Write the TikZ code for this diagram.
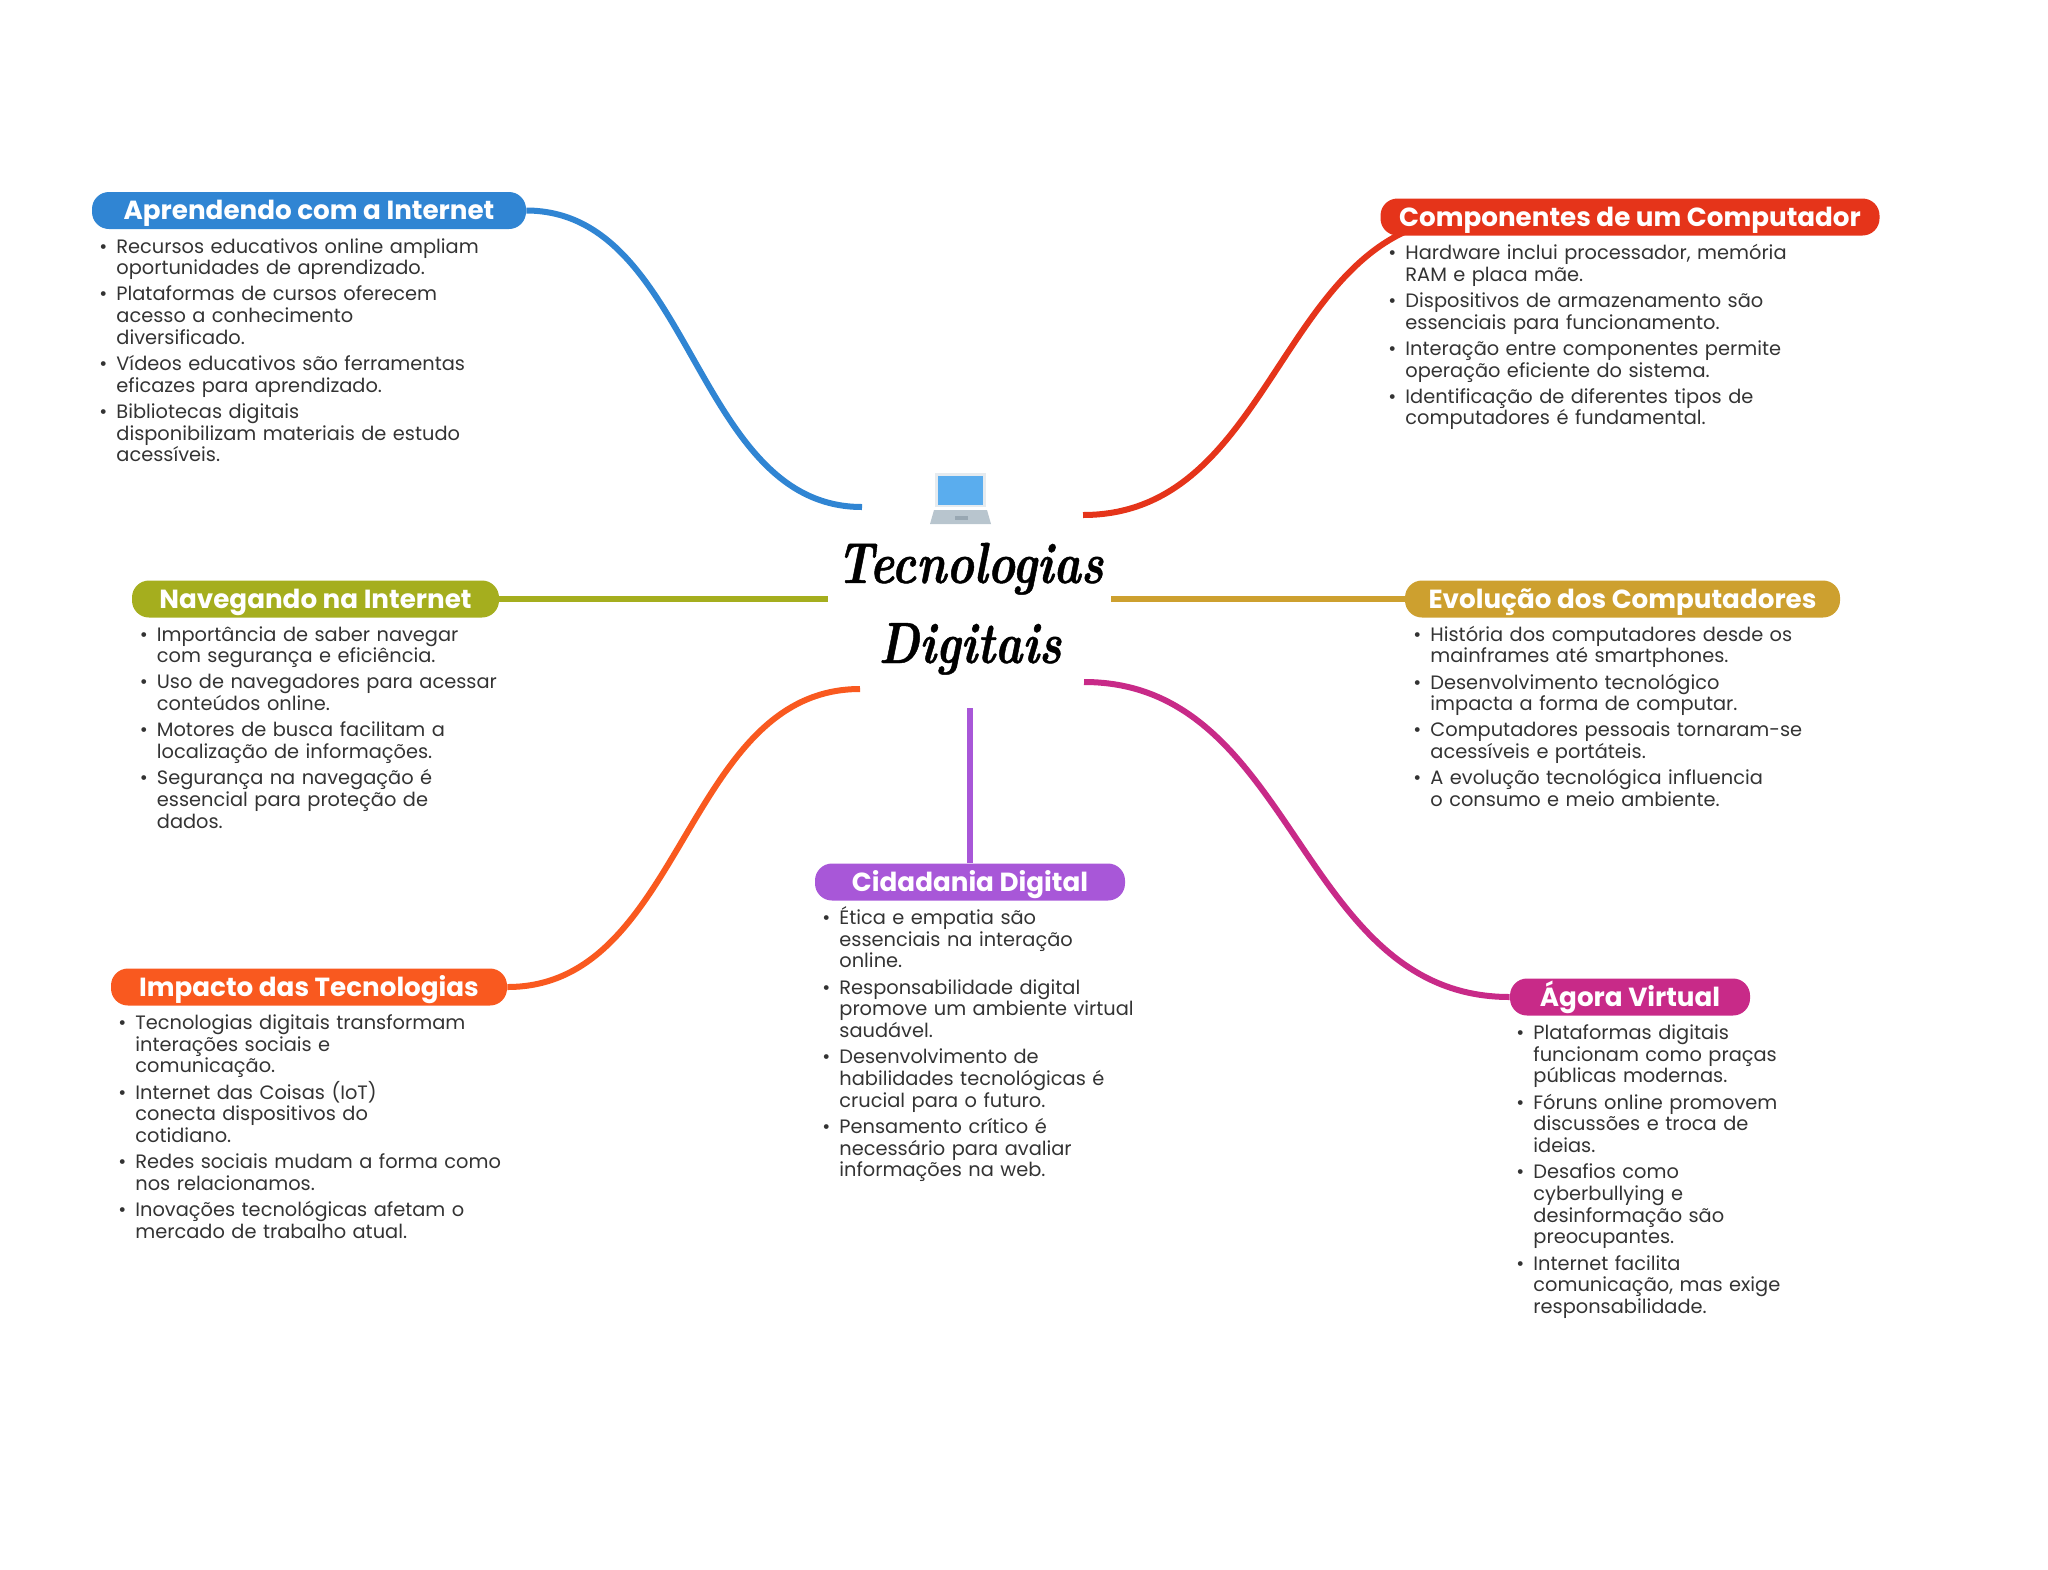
\documentclass[tikz,border=0pt]{standalone}
\usepackage{fontspec}
\setmainfont{Poppins}
\newfontfamily\titlefont[FakeStretch=0.8, FakeBold=0.8]{Latin Modern Roman}
\usepackage{tikz}
\usetikzlibrary{backgrounds}

\definecolor{azul}{HTML}{3085D3}
\definecolor{vermelho}{HTML}{E5341A}
\definecolor{oliva}{HTML}{A5AE1E}
\definecolor{ouro}{HTML}{CDA02F}
\definecolor{laranja}{HTML}{F9591F}
\definecolor{roxo}{HTML}{A857D8}
\definecolor{magenta}{HTML}{C82A88}
\definecolor{texto}{HTML}{333333}
\definecolor{tela}{HTML}{5AADEE}
\definecolor{moldura}{HTML}{E6EBEF}
\definecolor{teclado}{HTML}{B8C5CE}
\definecolor{tecla}{HTML}{98A7B2}

\tikzset{
    titulo/.style={rounded corners=8.5pt, minimum height=18.5pt, inner sep=0pt, text=white,
        text height=12.2pt, text depth=3.2pt,
        font=\fontsize{13.1}{15}\selectfont\bfseries},
    corpo/.style={anchor=base west, inner sep=0pt, text width=230pt, text=texto,
        font=\fontsize{9.69}{10.85}\selectfont},
    ramo/.style={line width=3pt}
}
\newcommand{\bitem}[1]{\makebox[0pt][r]{\textbullet\hspace{4.5pt}}\parbox[t]{225pt}{\lineskiplimit=-5pt\raggedright\strut #1\strut}\par\vspace{2.25pt}\nointerlineskip}

\begin{document}
\begin{tikzpicture}[x=0.5pt, y=-0.5pt]

        \useasboundingbox (0,0) rectangle (2048,1569);

        \coordinate (c1) at (862,507);
        \coordinate (c2) at (1083,515);
        \coordinate (c3) at (828,599);
        \coordinate (c4) at (1111,599);
        \coordinate (c5) at (860,689);
        \coordinate (c6) at (970,708);
        \coordinate (c7) at (1084,682);

        % titulos
        \node[titulo, fill=azul, minimum width=217pt] (aprendendo) at (309,210.5) {Aprendendo com a Internet};
        \node[titulo, fill=vermelho, minimum width=249.5pt] (componentes) at (1630,217) {Componentes de um Computador};
        \node[titulo, fill=oliva, minimum width=183.5pt] (navegando) at (315.5,599) {Navegando na Internet};
        \node[titulo, fill=ouro, minimum width=217.5pt] (evolucao) at (1622.5,599) {Evolução dos Computadores};
        \node[titulo, fill=laranja, minimum width=198pt] (impacto) at (309,987) {Impacto das Tecnologias};
        \node[titulo, fill=roxo, minimum width=155pt] (cidadania) at (970,882) {Cidadania Digital};
        \node[titulo, fill=magenta, minimum width=120pt] (agora) at (1630,997) {Ágora Virtual};

        \coordinate (c2b) at ([xshift=47pt]componentes.west);

        % ramos
        \begin{pgfonlayer}{background}
        \draw[ramo, azul] (aprendendo.east) .. controls (693,211) and (693,507) .. (c1);
        \draw[ramo, vermelho] (c2) .. controls (1279,515) and (1279,217) .. (c2b);
        \draw[ramo, oliva] (navegando.east) -- (c3);
        \draw[ramo, ouro] (c4) -- (evolucao.west);
        \draw[ramo, laranja] (c5) .. controls (684,689) and (684,987) .. (impacto.east);
        \draw[ramo, roxo] (c6) -- (cidadania.north);
        \draw[ramo, magenta] (c7) .. controls (1297,682) and (1297,997) .. (agora.west);
        \end{pgfonlayer}

        % textos
        \node[corpo] (aprendendoL) at (116,253) {%
            \bitem{Recursos educativos online ampliam\\oportunidades de aprendizado.}
            \bitem{Plataformas de cursos oferecem\\acesso a conhecimento\\diversificado.}
            \bitem{Vídeos educativos são ferramentas\\eficazes para aprendizado.}
            \bitem{Bibliotecas digitais\\disponibilizam materiais de estudo\\acessíveis.}};
        \node[corpo] (componentesL) at (1405,259.5) {%
            \bitem{Hardware inclui processador, memória\\RAM e placa mãe.}
            \bitem{Dispositivos de armazenamento são\\essenciais para funcionamento.}
            \bitem{Interação entre componentes permite\\operação eficiente do sistema.}
            \bitem{Identificação de diferentes tipos de\\computadores é fundamental.}};
        \node[corpo] (navegandoL) at (156.5,641) {%
            \bitem{Importância de saber navegar\\com segurança e eficiência.}
            \bitem{Uso de navegadores para acessar\\conteúdos online.}
            \bitem{Motores de busca facilitam a\\localização de informações.}
            \bitem{Segurança na navegação é\\essencial para proteção de\\dados.}};
        \node[corpo] (evolucaoL) at (1430,641) {%
            \bitem{História dos computadores desde os\\mainframes até smartphones.}
            \bitem{Desenvolvimento tecnológico\\impacta a forma de computar.}
            \bitem{Computadores pessoais tornaram-se\\acessíveis e portáteis.}
            \bitem{A evolução tecnológica influencia\\o consumo e meio ambiente.}};
        \node[corpo] (impactoL) at (135,1029.5) {%
            \bitem{Tecnologias digitais transformam\\interações sociais e\\comunicação.}
            \bitem{Internet das Coisas \smash{(IoT)}\\conecta dispositivos do\\cotidiano.}
            \bitem{Redes sociais mudam a forma como\\nos relacionamos.}
            \bitem{Inovações tecnológicas afetam o\\mercado de trabalho atual.}};
        \node[corpo] (cidadaniaL) at (839,924.5) {%
            \bitem{Ética e empatia são\\essenciais na interação\\online.}
            \bitem{Responsabilidade digital\\promove um ambiente virtual\\saudável.}
            \bitem{Desenvolvimento de\\habilidades tecnológicas é\\crucial para o futuro.}
            \bitem{Pensamento crítico é\\necessário para avaliar\\informações na web.}};
        \node[corpo] (agoraL) at (1533,1039.5) {%
            \bitem{Plataformas digitais\\funcionam como praças\\públicas modernas.}
            \bitem{Fóruns online promovem\\discussões e troca de\\ideias.}
            \bitem{Desafios como\\cyberbullying e\\desinformação são\\preocupantes.}
            \bitem{Internet facilita\\comunicação, mas exige\\responsabilidade.}};

        % centro
        \fill[moldura] (935,473) rectangle (986,507);
        \fill[tela] (938,476) rectangle (983,505);
        \fill[teclado] (934,510) -- (987,510) -- (991,524) -- (930,524) -- cycle;
        \fill[tecla] (955,516) rectangle (968,520);
        \node[font=\titlefont\itshape\bfseries\fontsize{29}{40}\selectfont, inner sep=0pt, align=center, anchor=base] (central) at (970,663) {Tecnologias\\Digitais};

\end{tikzpicture}
\end{document}
